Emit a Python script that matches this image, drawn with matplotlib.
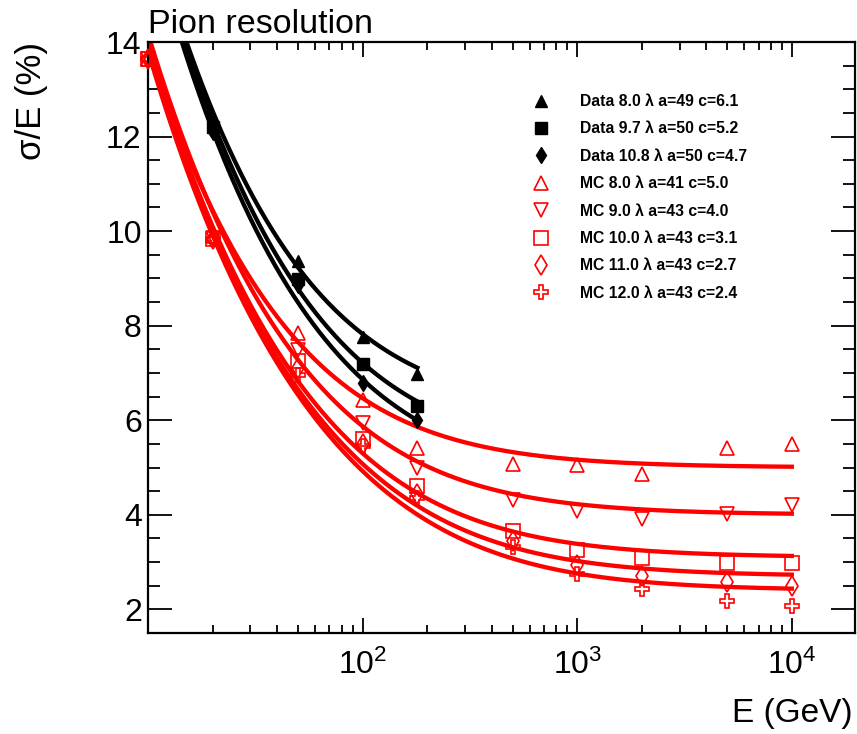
import numpy as np
import matplotlib
matplotlib.use("Agg")
import matplotlib.pyplot as plt
from matplotlib.ticker import FixedLocator, NullFormatter, MultipleLocator, LogLocator

plt.rcParams['font.family'] = ['Liberation Sans', 'DejaVu Sans']
plt.rcParams['mathtext.fontset'] = 'custom'
plt.rcParams['mathtext.rm'] = 'Liberation Sans'
plt.rcParams['mathtext.it'] = 'Liberation Sans'

# ---- data ----
data_E = [20, 50, 100, 180]
data_labels = ["Data 8.0 \u03bb a=49 c=6.1", "Data 9.7 \u03bb a=50 c=5.2", "Data 10.8 \u03bb a=50 c=4.7"]
data_a = [49, 50, 50]
data_c = [6.1, 5.2, 4.7]
data_80 = [12.3, 9.36, 7.77, 6.97]
data_97 = [12.2, 8.99, 7.19, 6.30]
data_108 = [12.1, 8.86, 6.79, 6.00]

mc_E = [10, 20, 50, 100, 180, 500, 1000, 2000, 5000, 10000]
mc_labels = ["MC 8.0 \u03bb a=41 c=5.0", "MC 9.0 \u03bb a=43 c=4.0", "MC 10.0 \u03bb a=43 c=3.1",
             "MC 11.0 \u03bb a=43 c=2.7", "MC 12.0 \u03bb a=43 c=2.4"]
mc_a = [41, 43, 43, 43, 43]
mc_c = [5.0, 4.0, 3.1, 2.7, 2.4]
mc_80 = [13.65, 9.9, 7.85, 6.42, 5.42, 5.08, 5.05, 4.87, 5.42, 5.49]
mc_90 = [13.65, 9.85, 7.49, 5.95, 5.00, 4.32, 4.07, 3.92, 4.02, 4.20]
mc_100 = [13.65, 9.83, 7.25, 5.60, 4.60, 3.66, 3.26, 3.09, 2.99, 2.97]
mc_110 = [13.65, 9.83, 7.10, 5.50, 4.45, 3.45, 2.94, 2.71, 2.58, 2.50]
mc_120 = [13.65, 9.83, 6.95, 5.45, 4.35, 3.31, 2.74, 2.44, 2.18, 2.08]

data_series = [data_80, data_97, data_108]
mc_series = [mc_80, mc_90, mc_100, mc_110, mc_120]

fig = plt.figure(figsize=(8.57, 7.34), dpi=100)
ax = fig.add_axes([148/857, 1-633/734, (855-148)/857, (633-42)/734])

# fit curves: sigma/E = sqrt(a^2/E + c^2)
Ed = np.logspace(1, np.log10(180), 300)
for a, c in zip(data_a, data_c):
    ax.plot(Ed, np.sqrt(a**2/Ed + c**2), color='black', lw=3.1, zorder=2)
Em = np.logspace(1, 4, 400)
for a, c in zip(mc_a, mc_c):
    ax.plot(Em, np.sqrt(a**2/Em + c**2), color='red', lw=3.1, zorder=2)

handles = []
dmk = [('^', 8.5), ('s', 8.0), ('d', 8.5)]
for vals, (m, s), lab in zip(data_series, dmk, data_labels):
    h, = ax.plot(data_E, vals, ls='none', marker=m, ms=s, color='black',
                 mec='black', clip_on=False, zorder=3, label=lab)
    handles.append(h)
mmk = [('^', 10.5), ('v', 10.5), ('s', 10), ('d', 10), ('P', 10.5)]
for vals, (m, s), lab in zip(mc_series, mmk, mc_labels):
    h, = ax.plot(mc_E, vals, ls='none', marker=m, ms=s, mfc='none', mec='red',
                 mew=1.2, clip_on=False, zorder=3, label=lab)
    handles.append(h)

ax.set_xscale('log')
ax.set_xlim(10, 1.97e4)
ax.set_ylim(1.5, 14)

ax.xaxis.set_major_locator(FixedLocator([100, 1000, 10000]))
ax.set_xticklabels([r'$10^{2}$', r'$10^{3}$', r'$10^{4}$'])
ax.xaxis.set_minor_locator(LogLocator(base=10, subs=np.arange(2, 10), numticks=20))
ax.xaxis.set_minor_formatter(NullFormatter())
ax.yaxis.set_major_locator(MultipleLocator(2))
ax.yaxis.set_minor_locator(MultipleLocator(0.5))

ax.tick_params(which='both', direction='in', top=True, right=True, width=1.3, labelsize=23)
ax.tick_params(axis='y', which='major', length=17, pad=4.5)
ax.tick_params(axis='y', which='minor', length=8.5)
ax.tick_params(axis='x', which='major', length=10.5, pad=12)
ax.tick_params(axis='x', which='minor', length=5.5)
for sp in ax.spines.values():
    sp.set_linewidth(1.6)

fig.text(148/857, 1-33/734, "Pion resolution", fontsize=24.5, ha='left', va='baseline')
fig.text(32/857, 1-101/734, "\u03c3/E (%)", fontsize=25, rotation=90, ha='center', va='center')
fig.text(853/857, 1-722/734, "E (GeV)", fontsize=24, ha='right', va='baseline')

leg = ax.legend(handles=handles, loc='upper left', bbox_to_anchor=(533/857, 1-94/734),
                bbox_transform=fig.transFigure, frameon=False, borderpad=0, borderaxespad=0,
                handlelength=1.0, handletextpad=2.0, labelspacing=0.79,
                prop={'weight': 'bold', 'size': 11.3})

fig.savefig("out.png", dpi=100)
